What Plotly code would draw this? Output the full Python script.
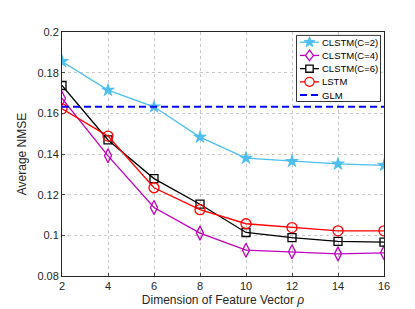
import math
import plotly.graph_objects as go

x = [2, 4, 6, 8, 10, 12, 14, 16]
clstm2 = [0.1855, 0.1714, 0.1632, 0.1483, 0.1380, 0.1364, 0.1351, 0.1344]
clstm4 = [0.1673, 0.1391, 0.1137, 0.1011, 0.0927, 0.0919, 0.0909, 0.0914]
clstm6 = [0.1737, 0.1469, 0.1279, 0.1153, 0.1014, 0.0989, 0.0970, 0.0967]
lstm = [0.1622, 0.1488, 0.1234, 0.1126, 0.1057, 0.1038, 0.1022, 0.1022]
glm = 0.1632
yticks = [0.08, 0.1, 0.12, 0.14, 0.16, 0.18, 0.2]
ytick_text = ["0.08", "0.1", "0.12", "0.14", "0.16", "0.18", "0.2"]
names = ["CLSTM(C=2)", "CLSTM(C=4)", "CLSTM(C=6)", "LSTM", "GLM"]

C2 = "#4DBEEE"
C4 = "#C000C0"
C6 = "#000000"
CL = "#FF0000"
CG = "#0000FF"

W, H = 415, 309
ML, MR, MT, MB = 54, 39, 24, 34
PW, PH = W - ML - MR, H - MT - MB


def px(u):
    return (u - ML) / PW


def py(v):
    return 1 - (v - MT) / PH


fig = go.Figure()
fig.add_trace(go.Scatter(x=x, y=clstm2, name=names[0], mode="lines+markers",
                         line=dict(color=C2, width=1.3),
                         marker=dict(symbol="star", size=11, color=C2)))
fig.add_trace(go.Scatter(x=x, y=clstm4, name=names[1], mode="lines+markers",
                         line=dict(color=C4, width=1.3),
                         marker=dict(symbol="diamond-tall-open", size=10, color=C4, line=dict(width=1.3))))
fig.add_trace(go.Scatter(x=x, y=clstm6, name=names[2], mode="lines+markers",
                         line=dict(color=C6, width=1.3),
                         marker=dict(symbol="square-open", size=8, color=C6, line=dict(width=1.3))))
fig.add_trace(go.Scatter(x=x, y=lstm, name=names[3], mode="lines+markers",
                         line=dict(color=CL, width=1.3),
                         marker=dict(symbol="circle-open", size=10, color=CL, line=dict(width=1.3))))
fig.add_trace(go.Scatter(x=[x[0], x[-1]], y=[glm, glm], name=names[4], mode="lines",
                         line=dict(color=CG, width=2, dash="7px,4px")))

# ---- manual legend (box, sample lines, symbols, labels) ----
shapes = []
annotations = []
bx0, bx1, by0, by1 = 288.5, 372.5, 27.5, 95.5
shapes.append(dict(type="rect", xref="paper", yref="paper",
                   x0=px(bx0), x1=px(bx1), y0=py(by1), y1=py(by0),
                   line=dict(color="black", width=0.8), fillcolor="white", layer="above"))
rows = [34.5, 48.1, 61.7, 75.3, 88.9]
colors = [C2, C4, C6, CL, CG]
lx0, lx1, mx, tx = 292, 311, 301.5, 312
for i, (yy, col, nm) in enumerate(zip(rows, colors, names)):
    if i == 4:
        shapes.append(dict(type="line", xref="paper", yref="paper",
                           x0=px(lx0), x1=px(lx1), y0=py(yy), y1=py(yy),
                           line=dict(color=col, width=2, dash="7px,4px"), layer="above"))
    else:
        shapes.append(dict(type="line", xref="paper", yref="paper",
                           x0=px(lx0), x1=px(lx1), y0=py(yy), y1=py(yy),
                           line=dict(color=col, width=1.3), layer="above"))
    annotations.append(dict(x=px(tx), y=py(yy), xref="paper", yref="paper",
                            text=nm, showarrow=False, xanchor="left", yanchor="middle",
                            font=dict(size=9.5, color="black")))

# star symbol
pts = []
for k in range(10):
    r = 5.8 if k % 2 == 0 else 2.4
    a = -math.pi / 2 + k * math.pi / 5
    pts.append((mx + r * math.cos(a), rows[0] + r * math.sin(a)))
path = "M " + " L ".join(f"{px(a):.5f},{py(b):.5f}" for a, b in pts) + " Z"
shapes.append(dict(type="path", xref="paper", yref="paper", path=path,
                   fillcolor=C2, line=dict(color=C2, width=0.8), layer="above"))
# diamond symbol
d = [(mx, rows[1] - 5.5), (mx + 4, rows[1]), (mx, rows[1] + 5.5), (mx - 4, rows[1])]
path = "M " + " L ".join(f"{px(a):.5f},{py(b):.5f}" for a, b in d) + " Z"
shapes.append(dict(type="path", xref="paper", yref="paper", path=path,
                   fillcolor="white", line=dict(color=C4, width=1.3), layer="above"))
# square symbol
shapes.append(dict(type="rect", xref="paper", yref="paper",
                   x0=px(mx - 3.7), x1=px(mx + 3.7), y0=py(rows[2] + 3.7), y1=py(rows[2] - 3.7),
                   fillcolor="white", line=dict(color=C6, width=1.3), layer="above"))
# circle symbol
shapes.append(dict(type="circle", xref="paper", yref="paper",
                   x0=px(mx - 4.6), x1=px(mx + 4.6), y0=py(rows[3] + 4.6), y1=py(rows[3] - 4.6),
                   fillcolor="white", line=dict(color=CL, width=1.3), layer="above"))

fig.update_layout(
    width=W, height=H,
    margin=dict(l=ML, r=MR, t=MT, b=MB),
    paper_bgcolor="white", plot_bgcolor="white",
    font=dict(family="Liberation Sans, Arial, sans-serif", size=11, color="#262626"),
    showlegend=False,
    shapes=shapes,
    annotations=annotations,
    xaxis=dict(range=[2, 16], tickvals=x, showgrid=True, gridcolor="#c8c8c8",
               griddash="dot", gridwidth=1, showline=True, linecolor="#262626",
               linewidth=1, mirror=True, ticks="inside", ticklen=3, zeroline=False,
               title=dict(text="Dimension of Feature Vector <i>ρ</i>", standoff=4,
                          font=dict(size=12))),
    yaxis=dict(range=[0.08, 0.2], tickvals=yticks, ticktext=ytick_text, showgrid=True,
               gridcolor="#c8c8c8", griddash="dot", gridwidth=1, showline=True,
               linecolor="#262626", linewidth=1, mirror=True, ticks="inside", ticklen=3,
               zeroline=False,
               title=dict(text="Average NMSE", standoff=8, font=dict(size=12))),
)

fig.write_html("out.html")
